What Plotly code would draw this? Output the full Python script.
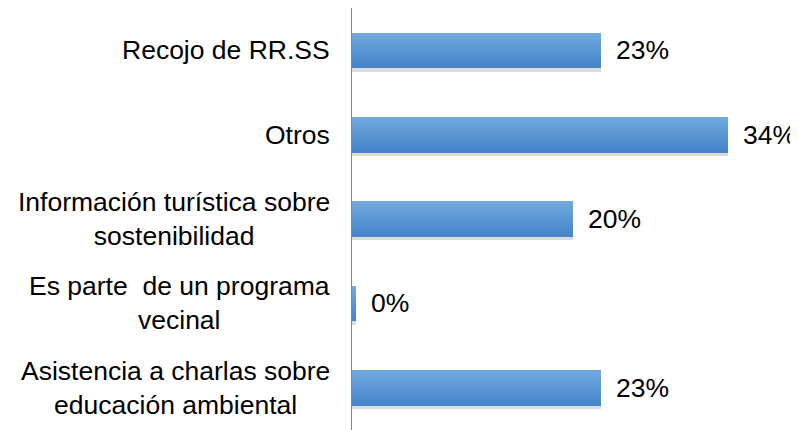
"""Horizontal bar chart - actividades (percent), Excel-like styling."""

import plotly.graph_objects as go

categories = [
    "Recojo de RR.SS",
    "Otros",
    "Información turística sobre<br>sostenibilidad",
    "Es parte  de un programa<br>vecinal",
    "Asistencia a charlas sobre<br>educación ambiental",
]
values = [22.6, 34.1, 20.1, 0.4, 22.6]

FONT = "Liberation Sans, Arial, sans-serif"
BAR_W = 0.415
N_BANDS = 12
TOP_RGB = (112, 168, 222)
BOT_RGB = (70, 133, 202)

fig = go.Figure()

# soft drop shadow under each bar
fig.add_trace(
    go.Bar(
        orientation="h",
        y=categories,
        x=values,
        width=BAR_W,
        offset=-BAR_W / 2 + 0.045,
        marker=dict(color="rgba(0,0,0,0.14)", line=dict(width=0)),
        hoverinfo="skip",
    )
)

# vertical gradient built from thin stacked bands
band = BAR_W / N_BANDS
for i in range(N_BANDS):
    t = i / (N_BANDS - 1)
    rgb = tuple(int(round(a + (b - a) * t)) for a, b in zip(TOP_RGB, BOT_RGB))
    fig.add_trace(
        go.Bar(
            orientation="h",
            y=categories,
            x=values,
            width=band + 0.006,
            offset=-BAR_W / 2 + i * band,
            marker=dict(color=f"rgb{rgb}", line=dict(width=0)),
            hoverinfo="skip",
        )
    )

for cat, v in zip(categories, values):
    fig.add_annotation(
        x=v,
        y=cat,
        xref="x",
        yref="y",
        text=f"{v:.0f}%",
        xanchor="left",
        xshift=13,
        showarrow=False,
        font=dict(family=FONT, size=26.5, color="#000000"),
    )
    fig.add_annotation(
        x=0,
        y=cat,
        xref="x",
        yref="y",
        text=cat,
        xanchor="right",
        align="center",
        xshift=-20,
        showarrow=False,
        font=dict(family=FONT, size=26.5, color="#000000"),
    )

# the page body keeps an 8px margin, so the figure is 8px smaller and shifted
fig.update_layout(
    width=790,
    height=422,
    margin=dict(l=344, r=0, t=0, b=0),
    paper_bgcolor="white",
    plot_bgcolor="white",
    barmode="overlay",
    bargap=0,
    showlegend=False,
    xaxis=dict(
        range=[0, 40.5],
        showgrid=False,
        zeroline=False,
        showline=False,
        showticklabels=False,
        ticks="",
    ),
    yaxis=dict(
        autorange="reversed",
        showgrid=False,
        zeroline=False,
        showline=True,
        linecolor="#868686",
        linewidth=1,
        showticklabels=False,
        ticks="",
    ),
)

fig.write_html("out.html")
